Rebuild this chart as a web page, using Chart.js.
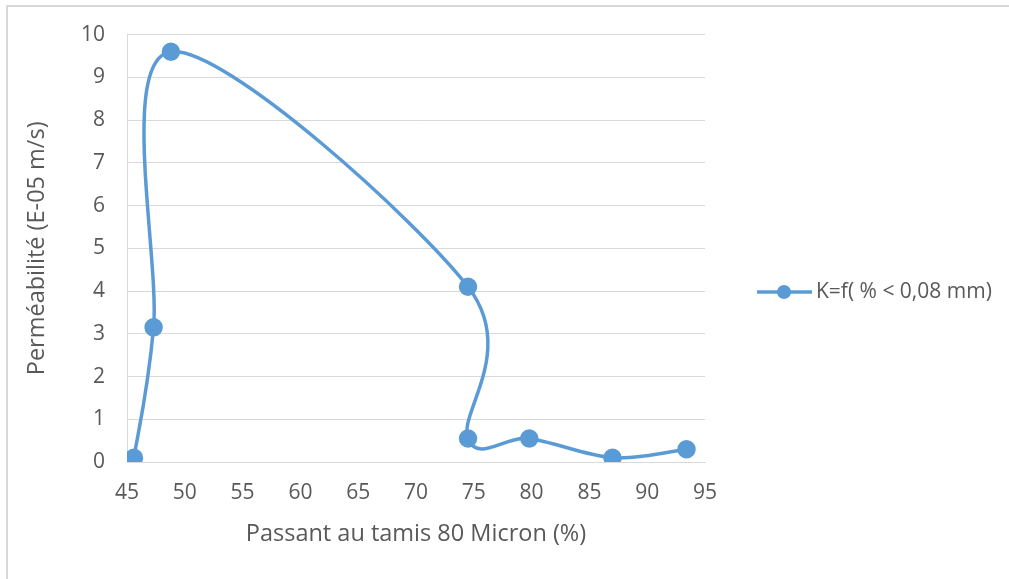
<!DOCTYPE html>
<html>
<head>
<meta charset="utf-8">
<script src="https://cdn.jsdelivr.net/npm/chart.js@4.4.1/dist/chart.umd.min.js"></script>
<style>
  html, body { margin: 0; padding: 0; background: #fff; overflow: hidden; }
  #frame { position: absolute; left: 6px; top: 5px; width: 1200px; height: 800px; border: 2px solid #d9d9d9; }
  #myChart { position: absolute; left: 0; top: 0; }
</style>
</head>
<body>
<div id="frame"></div>
<canvas id="myChart" width="1009" height="579"></canvas>
<script>
// Passant au tamis 80 micron (%) vs perméabilité (E-05 m/s)
const passant = [45.6, 47.3, 48.8, 74.5, 74.5, 79.8, 87.0, 93.4];
const permeabilite = [0.1, 3.15, 9.6, 4.1, 0.55, 0.55, 0.1, 0.3];
const serieLabel = "K=f( % < 0,08 mm)";
const xTitle = "Passant au tamis 80 Micron (%)";
const yTitle = "Perméabilité (E-05 m/s)";

const blue = "#5b9bd5";
const grey = "#595959";
const fontFamily = "'Open Sans', sans-serif";

let points = passant.map((x, i) => ({ x: x, y: permeabilite[i] }));

// Excel smooths with plain Catmull-Rom (handles = (next - prev) / 6),
// chart.js weights by segment length, so redo the control points here
const excelSmooth = {
  id: "excelSmooth",
  beforeDatasetsDraw(chart) {
    const meta = chart.getDatasetMeta(0);
    meta.dataset.updateControlPoints(chart.chartArea, "x");
    const pts = meta.data;
    for (let i = 0; i < pts.length; i++) {
      const p = pts[i];
      const prev = pts[i - 1] || p;
      const next = pts[i + 1] || p;
      p.cp1x = p.x - (next.x - prev.x) / 6;
      p.cp1y = p.y - (next.y - prev.y) / 6;
      p.cp2x = p.x + (next.x - prev.x) / 6;
      p.cp2y = p.y + (next.y - prev.y) / 6;
    }
  }
};

// legend drawn by hand so the sample looks like Excel's (line + dot)
const legendPlugin = {
  id: "excelLegend",
  afterDraw(chart) {
    const ctx = chart.ctx;
    const y = 292;
    const x0 = 757;
    ctx.save();
    ctx.strokeStyle = blue;
    ctx.lineWidth = 3.5;
    ctx.beginPath();
    ctx.moveTo(x0, y);
    ctx.lineTo(x0 + 55, y);
    ctx.stroke();
    ctx.fillStyle = blue;
    ctx.beginPath();
    ctx.arc(x0 + 27, y, 7, 0, Math.PI * 2);
    ctx.fill();
    ctx.fillStyle = grey;
    ctx.font = "21px " + fontFamily;
    ctx.textBaseline = "middle";
    ctx.fillText(serieLabel, x0 + 59, y);
    ctx.restore();
  }
};

let ctx = document.getElementById("myChart").getContext("2d");
let chart = new Chart(ctx, {
  type: "scatter",
  data: {
    datasets: [
      {
        label: serieLabel,
        data: points,
        showLine: true,
        tension: 0.4,
        capBezierPoints: false,
        borderColor: blue,
        backgroundColor: blue,
        borderWidth: 3.5,
        pointRadius: 7.5,
        pointHoverRadius: 7.5
      }
    ]
  },
  options: {
    responsive: false,
    animation: false,
    devicePixelRatio: 1,
    layout: { padding: { left: 0, right: 304, top: 34, bottom: 0 } },
    plugins: {
      legend: { display: false },
      tooltip: { enabled: false }
    },
    scales: {
      x: {
        type: "linear",
        min: 45,
        max: 95,
        afterFit: s => { s.height = 117; },
        ticks: { stepSize: 5, color: grey, font: { family: fontFamily, size: 21 }, padding: 18 },
        grid: { display: false, drawTicks: false },
        border: { color: "#d9d9d9", width: 1 },
        title: { display: true, text: xTitle, color: grey, font: { family: fontFamily, size: 23.5 }, padding: { top: 4, bottom: 31 } }
      },
      y: {
        min: 0,
        max: 10,
        afterFit: s => { s.width = 127; },
        ticks: { stepSize: 1, color: grey, font: { family: fontFamily, size: 21 }, padding: 22 },
        grid: { color: "#d9d9d9", lineWidth: 1, drawTicks: false },
        border: { color: "#d9d9d9", width: 1 },
        title: { display: true, text: yTitle, color: grey, font: { family: fontFamily, size: 23.5 }, padding: { top: 23, bottom: 4 } }
      }
    }
  },
  plugins: [excelSmooth, legendPlugin]
});
</script>
</body>
</html>
